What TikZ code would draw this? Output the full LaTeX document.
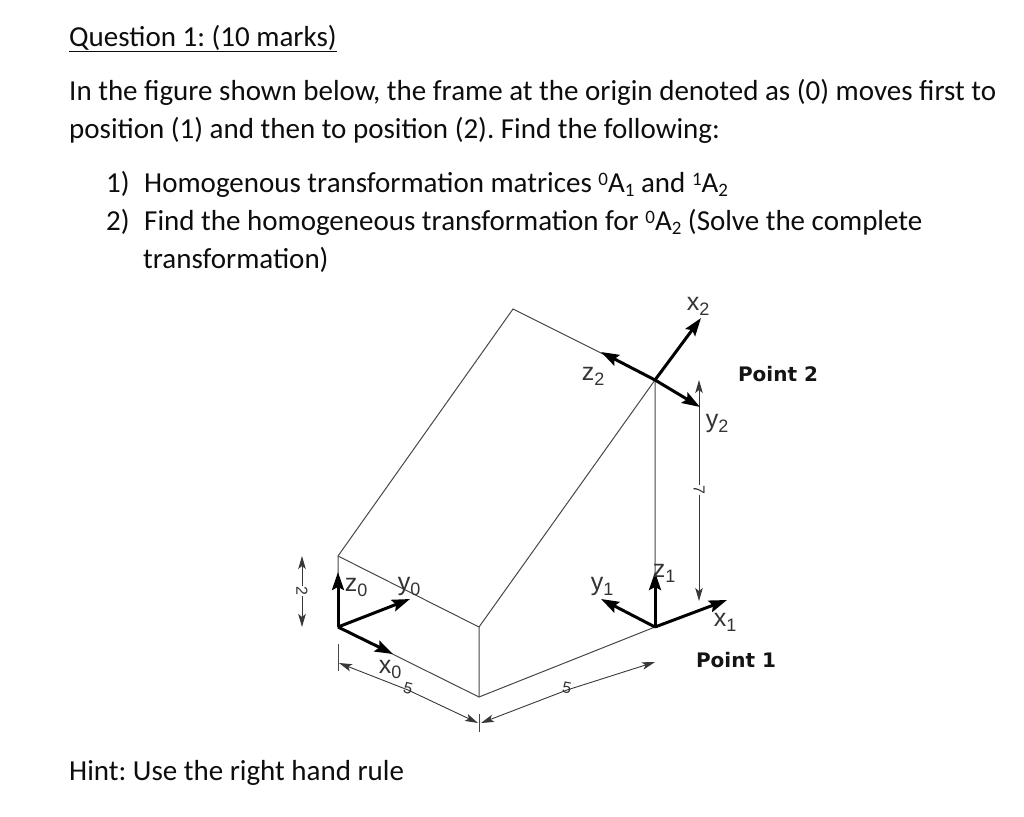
\documentclass[tikz,border=0pt]{standalone}
\usepackage{fontspec}
\setmainfont{Carlito}
\newfontfamily\lab{Liberation Sans}
\newfontfamily\pnt{DejaVu Sans}
\usetikzlibrary{arrows.meta}
\frenchspacing
\tikzset{
  txt/.style={anchor=base west,inner sep=0pt,font=\fontsize{29}{29}\selectfont,text=black!95},
  edge/.style={line width=1pt,draw=black!72},
  dim/.style={line width=0.9pt,draw=black!78,-{Stealth[length=13pt,width=7.5pt,inset=3pt]}},
  tick/.style={line width=0.9pt,draw=black!72},
  axis/.style={line width=3pt,draw=black,-{Stealth[length=18pt,width=12pt,inset=3pt]}},
  alab/.style={inner sep=0pt,font=\lab\fontsize{25}{25}\selectfont,text=black!80},
  dlab/.style={inner sep=0pt,font=\lab\fontsize{16}{16}\selectfont,text=black!80},
  plab/.style={inner sep=0pt,font=\pnt\bfseries\fontsize{20}{20}\selectfont,text=black!92},
}
\newcommand{\supn}[1]{\raisebox{7pt}{\fontsize{19}{19}\selectfont #1}}
\newcommand{\subn}[1]{\raisebox{-4pt}{\fontsize{19}{19}\selectfont #1}}
\newcommand{\lsub}[1]{\raisebox{-5pt}{\fontsize{18}{18}\selectfont #1}}
\begin{document}
\begin{tikzpicture}[x=1pt,y=-1pt]
\useasboundingbox (0,0) rectangle (1024,816);
% text
\node[txt] (q) at (69,46) {\underline{Question 1: (10 marks)}};
\node[txt] (l1) at (69,100) {In the figure shown below, the frame at the origin denoted as (0) moves first to};
\node[txt] (l2) at (69,138) {position (1) and then to position (2). Find the following:};
\node[txt] (n1) at (106,192) {1)};
\node[txt] (i1) at (144,192) {Homogenous transformation matrices \supn{0}A\subn{1} and \supn{1}A\subn{2}};
\node[txt] (n2) at (106,230) {2)};
\node[txt] (i2) at (144,230) {Find the homogeneous transformation for \supn{0}A\subn{2} (Solve the complete};
\node[txt] (i3) at (143,268) {transformation)};
\node[txt] (h) at (69,780) {Hint: Use the right hand rule};
% solid
\coordinate (A) at (338,556);
\coordinate (B) at (338,627);
\coordinate (C) at (479,697);
\coordinate (D) at (479,627);
\coordinate (E) at (655,627);
\coordinate (F) at (655,380);
\coordinate (G) at (513,309);
\draw[edge] (B) -- (A) -- (G) -- (F) -- (E) -- (C) -- (B);
\draw[edge] (A) -- (D) -- (C);
\draw[edge] (D) -- (F);
% dimension 5 left
\coordinate (t1a) at (338,644); \coordinate (t1b) at (338,671);
\coordinate (t2a) at (479,714); \coordinate (t2b) at (479,732);
\draw[tick] (t1a) -- (t1b);
\draw[tick] (t2a) -- (t2b);
\coordinate (d5m) at (408,690);
\coordinate (d5l) at (339,663);
\coordinate (d5r) at (478,723);
\node[dlab,rotate=-15] (five1) at (408,688) {5};
\draw[dim] (d5m) -- (d5l);
\draw[dim] (d5m) -- (d5r);
% dimension 5 right
\coordinate (e5m) at (567,690);
\coordinate (e5l) at (481,723);
\coordinate (e5r) at (655,662);
\node[dlab,rotate=-10] (five2) at (567,688) {5};
\draw[dim] (e5m) -- (e5l);
\draw[dim] (e5m) -- (e5r);
% dimension 2
\node[dlab,rotate=-90] (two) at (302,591) {2};
\coordinate (d2t) at (302,556);
\coordinate (d2b) at (302,627);
\draw[dim] (two) -- (d2t);
\draw[dim] (two) -- (d2b);
% dimension 7
\node[dlab,rotate=-90] (seven) at (699,490) {7};
\coordinate (d7t) at (699,380);
\coordinate (d7b) at (699,601);
\draw[dim] (seven) -- (d7t);
\draw[dim] (seven) -- (d7b);
% frames
\coordinate (z0) at (338,572);
\coordinate (y0) at (410,599);
\coordinate (x0) at (393,654);
\draw[axis] (B) -- (z0);
\draw[axis] (B) -- (y0);
\draw[axis] (B) -- (x0);
\coordinate (z1) at (655,572);
\coordinate (y1) at (601,599);
\coordinate (x1) at (727,600);
\draw[axis] (E) -- (z1);
\draw[axis] (E) -- (y1);
\draw[axis] (E) -- (x1);
\coordinate (x2) at (701,318);
\coordinate (z2) at (601,352);
\coordinate (y2) at (700,407);
\draw[axis] (F) -- (x2);
\draw[axis] (F) -- (z2);
\draw[axis] (F) -- (y2);
% labels
\node[alab] (lz0) at (356,587) {z\lsub{0}};
\node[alab] (ly0) at (409,586) {y\lsub{0}};
\node[alab] (lx0) at (390,669) {x\lsub{0}};
\node[alab] (lz1) at (664,573) {z\lsub{1}};
\node[alab] (ly1) at (602,586) {y\lsub{1}};
\node[alab] (lx1) at (725,622) {x\lsub{1}};
\node[alab] (lx2) at (698,306) {x\lsub{2}};
\node[alab] (lz2) at (593,376) {z\lsub{2}};
\node[alab] (ly2) at (717,423) {y\lsub{2}};
\node[plab] (p2) at (778,374) {Point 2};
\node[plab] (p1) at (736,660) {Point 1};
\end{tikzpicture}
\end{document}
